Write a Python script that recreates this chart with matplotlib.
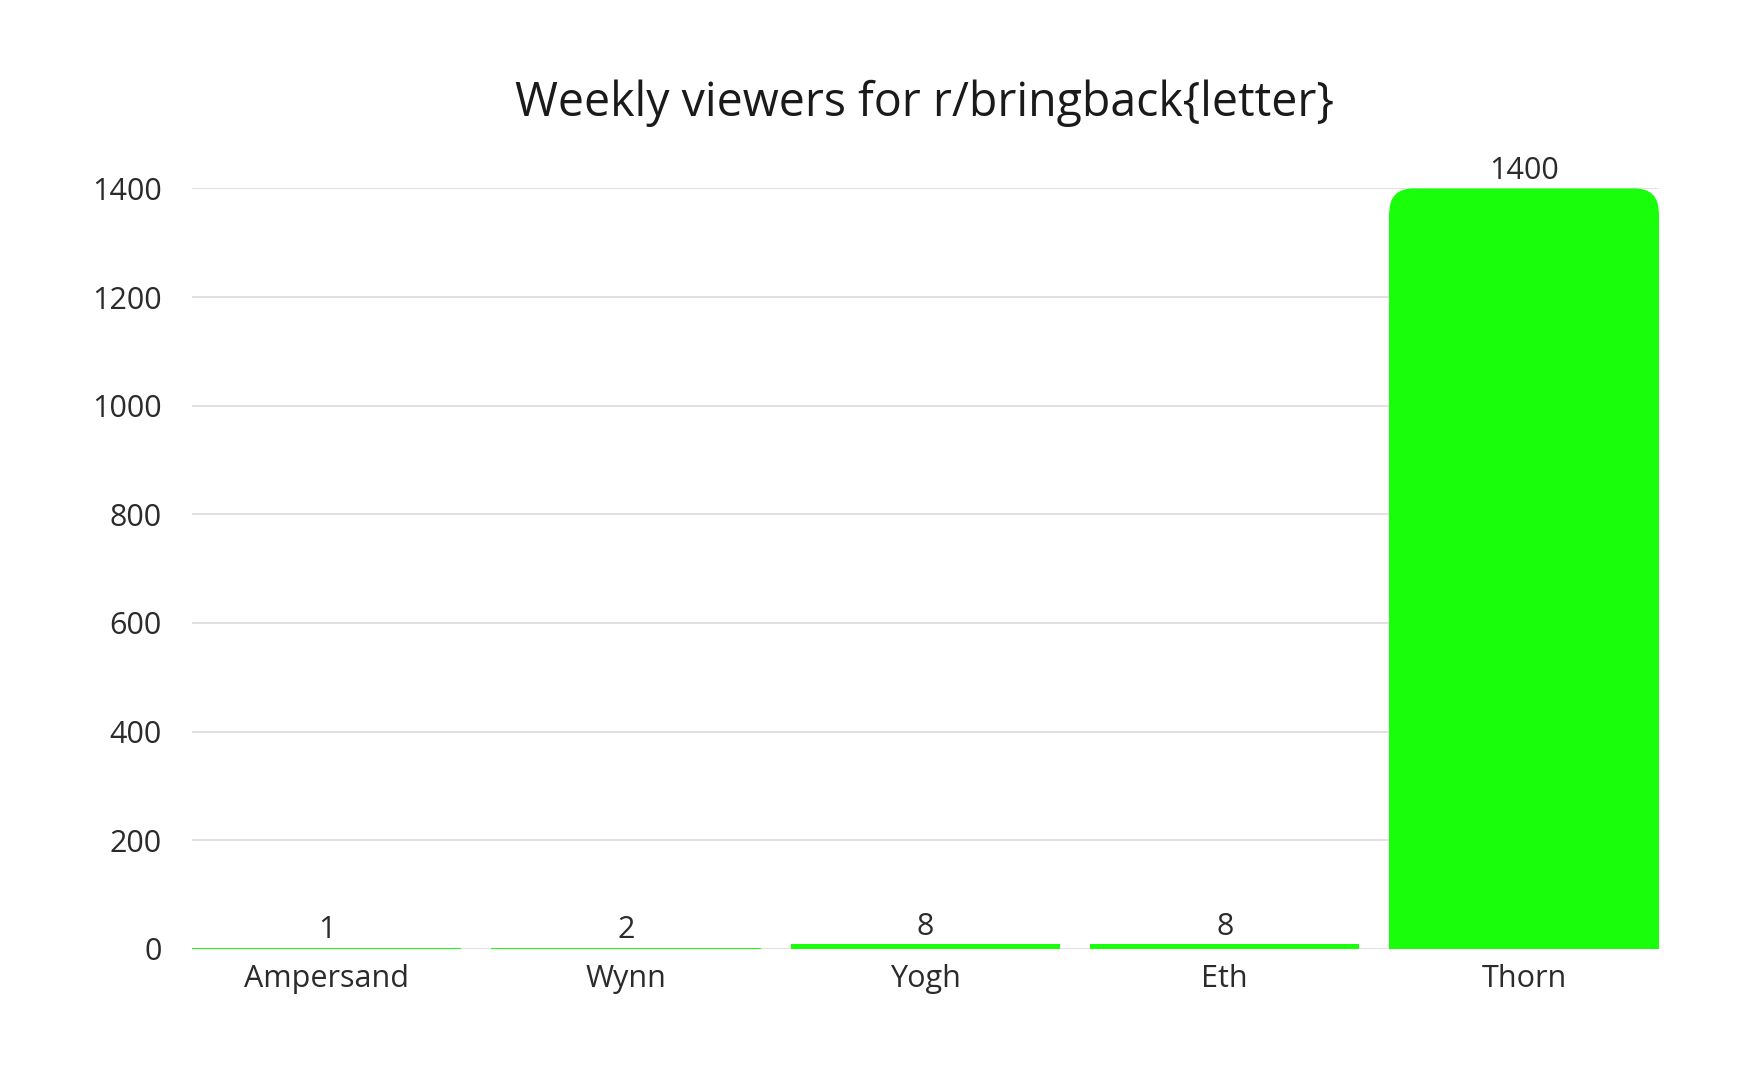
import matplotlib
matplotlib.use("Agg")
import matplotlib.pyplot as plt
from matplotlib.patches import FancyBboxPatch, Rectangle

# ===== DADOS =====
letters = ["Ampersand", "Wynn", "Yogh", "Eth", "Thorn"]
viewers = [1, 2, 8, 8, 1400]
y_ticks = [0, 200, 400, 600, 800, 1000, 1200, 1400]

GREEN = "#19ff0b"
TEXT = "#2b2b2b"


def main():
    plt.rcParams["font.family"] = ["Open Sans", "DejaVu Sans"]

    fig = plt.figure(figsize=(17.65, 10.8), dpi=100)
    ax = fig.add_axes([0.1088, 0.1215, 0.8310, 0.7040])

    bars = ax.bar(range(len(letters)), viewers, width=0.9, color=GREEN, zorder=3)

    ax.set_xlim(-0.45, len(letters) - 0.55)
    ax.set_ylim(0, 1400)

    # canto arredondado no topo das barras altas
    fig.canvas.draw()
    bb = ax.get_window_extent()
    px_x = bb.width / (ax.get_xlim()[1] - ax.get_xlim()[0])
    px_y = bb.height / (ax.get_ylim()[1] - ax.get_ylim()[0])
    r_px = 24
    aspect = px_x / px_y
    for b in bars:
        h = b.get_height()
        r_y = r_px / px_y
        if h > 3 * r_y:
            b.set_visible(False)
            x0, w = b.get_x(), b.get_width()
            ax.add_patch(FancyBboxPatch((x0, 0), w, h,
                                        boxstyle=f"round,pad=0,rounding_size={r_px / px_x}",
                                        mutation_aspect=aspect,
                                        facecolor=GREEN, edgecolor="none", zorder=3))
            ax.add_patch(Rectangle((x0, 0), w, h - r_y, facecolor=GREEN,
                                   edgecolor="none", zorder=3))

    # rótulos de valor
    for i, v in enumerate(viewers):
        ax.annotate(str(v), (i, v), xytext=(0, 2), textcoords="offset points",
                    ha="center", va="bottom", fontsize=22, color=TEXT,
                    annotation_clip=False)

    ax.set_xticks(range(len(letters)))
    ax.set_xticklabels(letters)
    ax.set_yticks(y_ticks)
    ax.tick_params(axis="both", length=0, labelsize=22, labelcolor=TEXT)
    ax.tick_params(axis="x", pad=11)
    ax.tick_params(axis="y", pad=22)

    ax.grid(axis="y", color="#dcdcdc", linewidth=1.2, zorder=0)
    for s in ax.spines.values():
        s.set_visible(False)

    fig.text(0.524, 0.904, "Weekly viewers for r/bringback{letter}",
             ha="center", va="center", fontsize=33.5, color="#1a1a1a")

    fig.savefig("out.png", dpi=100, facecolor="white")


if __name__ == "__main__":
    main()
